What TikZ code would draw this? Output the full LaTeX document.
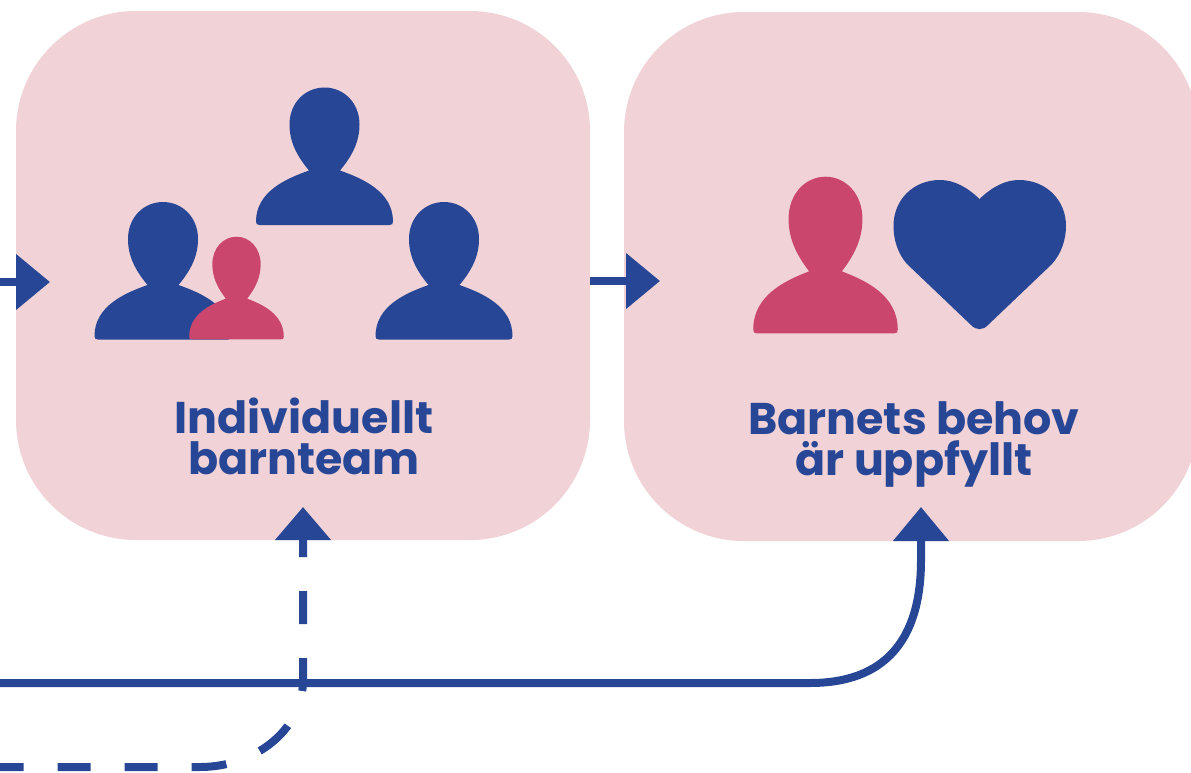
\documentclass[tikz,border=0pt]{standalone}
\usepackage{fontspec}
\setmainfont{Poppins}
\usetikzlibrary{arrows.meta}
\definecolor{boxpink}{HTML}{F0D2D7}
\definecolor{navy}{HTML}{274796}
\definecolor{rose}{HTML}{CB466C}
\tikzset{
  teambox/.style={fill=boxpink,draw=none,rectangle,rounded corners=120pt,minimum width=574pt,minimum height=529pt,inner sep=0pt},
  boxlabel/.style={text=navy,font=\fontsize{44.4}{41}\selectfont\bfseries,align=center,inner sep=0pt},
  flow/.style={draw=navy,line width=8pt},
  bigtip/.style={-{Triangle[length=34pt,width=54pt]}},
  pics/person/.style={code={
    \fill[#1] (-68.5,134)
      .. controls (-68.5,104) and (-38,91) .. (-15.5,83)
      .. controls (-28,68) and (-35,54) .. (-35,37)
      .. controls (-35,15) and (-19,0) .. (0,0)
      .. controls (19,0) and (35,15) .. (35,37)
      .. controls (35,54) and (28,68) .. (15.5,83)
      .. controls (38,91) and (68.5,104) .. (68.5,134)
      .. controls (68.5,136.5) and (67.5,137.5) .. (65,137.5)
      -- (-65,137.5)
      .. controls (-67.5,137.5) and (-68.5,136.5) .. (-68.5,134) -- cycle;
  }}
}
\begin{document}
\begin{tikzpicture}[x=1pt,y=-1pt]
\useasboundingbox (0,0) rectangle (1191,772);
\clip (0,0) rectangle (1191,772);
\node[teambox] (team) at (303,275.5) {};
\node[teambox] (need) at (911,276.5) {};

\pic at (324.5,87.5) {person=navy};
\pic at (163,202) {person=navy};
\pic at (444,202) {person=navy};
\pic[xscale=.69,yscale=.746] at (236.5,236.7) {person=rose};
\pic[xscale=1.055,yscale=1.14] at (825.5,176.7) {person=rose};

\fill[navy] (979.5,199)
  .. controls (992,187) and (1005,180) .. (1019,180)
  .. controls (1046,180) and (1066,200) .. (1066,226)
  .. controls (1066,240) and (1061,254) .. (1052,264)
  -- (988,325)
  .. controls (983,330.5) and (976,330.5) .. (971,325)
  -- (907,264)
  .. controls (898,254) and (893.5,240) .. (893.5,226)
  .. controls (893.5,200) and (913,180) .. (940,180)
  .. controls (954,180) and (967,187) .. (979.5,199) -- cycle;

\node[boxlabel] (teamtext) at (304,436.5) {Individuellt\\barnteam};
\node[boxlabel] (needtext) at (914,444) {Barnets behov\\är uppfyllt};

\coordinate (inL) at (0,282);
\coordinate (inT) at (50,282);
\coordinate (midL) at (team.east |- 0,281);
\coordinate (midT) at (660,281);
\coordinate (solidL) at (0,683);
\coordinate (solidK) at (810,683);
\coordinate (solidT) at (921,507);
\coordinate (dashT) at (303,507);
\coordinate (dashK) at (303,680);
\coordinate (dashC) at (200,767);
\coordinate (dashL) at (0,767);

\draw[flow,bigtip] (inL) -- (inT);
\draw[flow,bigtip] (midL) -- (midT);
\draw[flow,bigtip] (solidL) -- (solidK)
  .. controls (885,683) and (921,640) .. (921,560) -- (solidT);
\draw[flow,{Triangle[length=33pt,width=54pt]}-,
  dash pattern=on 33pt off 34pt on 33pt off 34pt on 33pt off 38pt on 38pt off 36pt on 35pt off 34pt on 33pt off 34pt on 33pt off 34pt on 33pt off 34pt,dash phase=14pt]
  (dashT) -- (dashK) .. controls (303,730) and (255,767) .. (dashC) -- (dashL);
\end{tikzpicture}
\end{document}
